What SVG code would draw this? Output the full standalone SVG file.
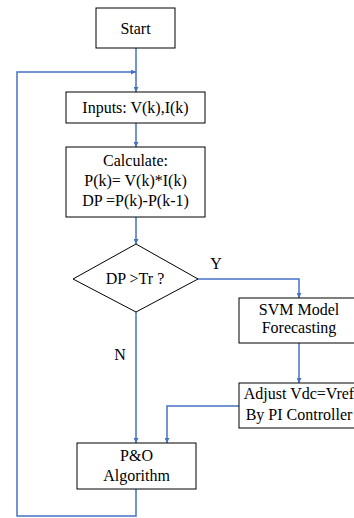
<svg xmlns="http://www.w3.org/2000/svg" width="354" height="518" viewBox="0 0 354 518">
<defs>
<marker id="ah" viewBox="0 0 10 10" refX="10" refY="5" markerWidth="5" markerHeight="5" orient="auto" markerUnits="userSpaceOnUse">
<path d="M0,0 L10,5 L0,10 z" fill="#4472C4"/>
</marker>
<style>
.box{fill:#fff;stroke:#000;stroke-width:1}
.t{font-family:'Liberation Serif','DejaVu Serif',serif;font-size:16px;fill:#000;text-anchor:middle}
.c{fill:none;stroke:#4472C4;stroke-width:1.5}
</style>
</defs>
<rect width="354" height="518" fill="#fff"/>
<g id="connectors">
<path class="c" d="M136,48 V92" marker-end="url(#ah)"/>
<path class="c" d="M136,123 V147" marker-end="url(#ah)"/>
<path class="c" d="M136,217 V244" marker-end="url(#ah)"/>
<path class="c" d="M198,279 H299 V298" marker-end="url(#ah)"/>
<path class="c" d="M299,343 V383" marker-end="url(#ah)"/>
<path class="c" d="M136,312 V443" marker-end="url(#ah)"/>
<path class="c" d="M239,406 H167 V443" marker-end="url(#ah)"/>
<path class="c" d="M136,489 V516 H17 V72 H136" marker-end="url(#ah)"/>
<text class="t" font-family="Liberation Serif, serif" x="216" y="269">Y</text>
<text class="t" font-family="Liberation Serif, serif" x="120" y="360">N</text>
</g>
<g id="start">
<rect class="box" x="96" y="8" width="79" height="40"/>
<text class="t" font-family="Liberation Serif, serif" x="135.5" y="34">Start</text>
</g>
<g id="inputs">
<rect class="box" x="66" y="92" width="139" height="31"/>
<text class="t" font-family="Liberation Serif, serif" x="135.5" y="113">Inputs: V(k),I(k)</text>
</g>
<g id="calculate">
<rect class="box" x="66" y="147" width="139" height="70"/>
<text class="t" font-family="Liberation Serif, serif" x="135.5" y="166">Calculate:</text>
<text class="t" font-family="Liberation Serif, serif" x="135.5" y="186">P(k)= V(k)*I(k)</text>
<text class="t" font-family="Liberation Serif, serif" x="135.5" y="206">DP =P(k)-P(k-1)</text>
</g>
<g id="decision">
<polygon class="box" points="136,244 198,279 136,312 73,279"/>
<text class="t" font-family="Liberation Serif, serif" x="135" y="284">DP &gt;Tr ?</text>
</g>
<g id="svm">
<rect class="box" x="239" y="298" width="121" height="45"/>
<text class="t" font-family="Liberation Serif, serif" x="299" y="315">SVM Model</text>
<text class="t" font-family="Liberation Serif, serif" x="299" y="333">Forecasting</text>
</g>
<g id="adjust">
<rect class="box" x="239" y="383" width="121" height="45"/>
<text class="t" font-family="Liberation Serif, serif" x="299" y="399">Adjust Vdc=Vref</text>
<text class="t" font-family="Liberation Serif, serif" x="299" y="420">By PI Controller</text>
</g>
<g id="po">
<rect class="box" x="77" y="443" width="119" height="46"/>
<text class="t" font-family="Liberation Serif, serif" x="136.5" y="461">P&amp;O</text>
<text class="t" font-family="Liberation Serif, serif" x="136.5" y="481">Algorithm</text>
</g>
</svg>
